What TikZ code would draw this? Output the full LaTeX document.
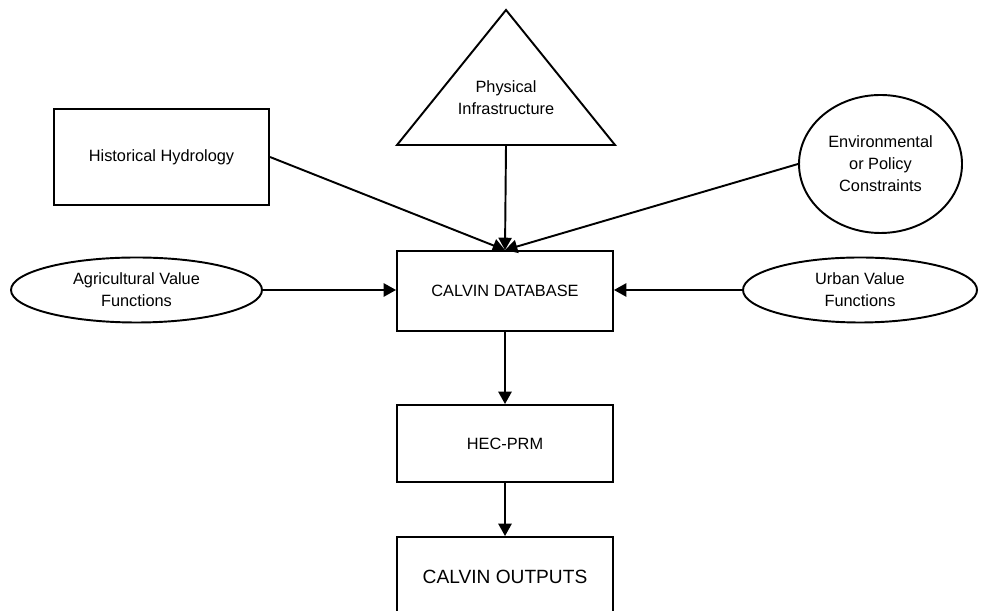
\documentclass[tikz,border=0pt]{standalone}
\usepackage{fontspec}
\setmainfont{Liberation Sans}
\usetikzlibrary{arrows.meta,shapes.geometric}

\begin{document}
\begin{tikzpicture}[>={Triangle[length=7pt,width=7.5pt]},
    box/.style={draw, line width=1.1pt, align=center, minimum width=4.32cm, minimum height=1.6cm, font=\fontsize{9.3}{12.5}\selectfont},
    oval/.style={draw, ellipse, line width=1.1pt, align=center, inner sep=0pt, font=\fontsize{9.3}{12.5}\selectfont},
    link/.style={->, line width=1.1pt}]
    \clip (0,0) rectangle (19.7,12.22);

    % inputs
    \node[box, minimum width=4.3cm, minimum height=1.92cm] (hist) at (3.23,9.08) {Historical Hydrology};
    \draw[line width=1.1pt, line join=miter] (7.94,9.32) -- (10.12,12.02) -- (12.30,9.32) -- cycle;
    \node[align=center, font=\fontsize{9.3}{12.5}\selectfont] (infra) at (10.12,10.27) {Physical\\Infrastructure};
    \coordinate (infrabase) at (10.12,9.32);
    \node[oval, minimum width=3.26cm, minimum height=2.76cm] (env) at (17.61,8.94) {Environmental\\or Policy\\Constraints};
    \node[oval, minimum width=5.02cm, minimum height=1.3cm] (agri) at (2.73,6.42) {Agricultural Value\\Functions};
    \node[oval, minimum width=4.68cm, minimum height=1.3cm] (urban) at (17.20,6.42) {Urban Value\\Functions};

    % model chain
    \node[box] (db) at (10.10,6.40) {CALVIN DATABASE};
    \node[box, minimum height=1.54cm] (hec) at (10.10,3.35) {HEC-PRM};
    \node[box, font=\fontsize{10.9}{12.5}\selectfont] (out) at (10.10,0.68) {CALVIN OUTPUTS};

    \draw[link] (hist.east) -- (db.north);
    \draw[link] (env.west) -- (db.north);
    \draw[link] (infrabase) -- (db.north);
    \draw[link] (agri.east) -- (agri.east -| db.west);
    \draw[link] (urban.west) -- (urban.west -| db.east);
    \draw[link] (db.south) -- (hec.north);
    \draw[link] (hec.south) -- (out.north);
  \end{tikzpicture}
\end{document}
